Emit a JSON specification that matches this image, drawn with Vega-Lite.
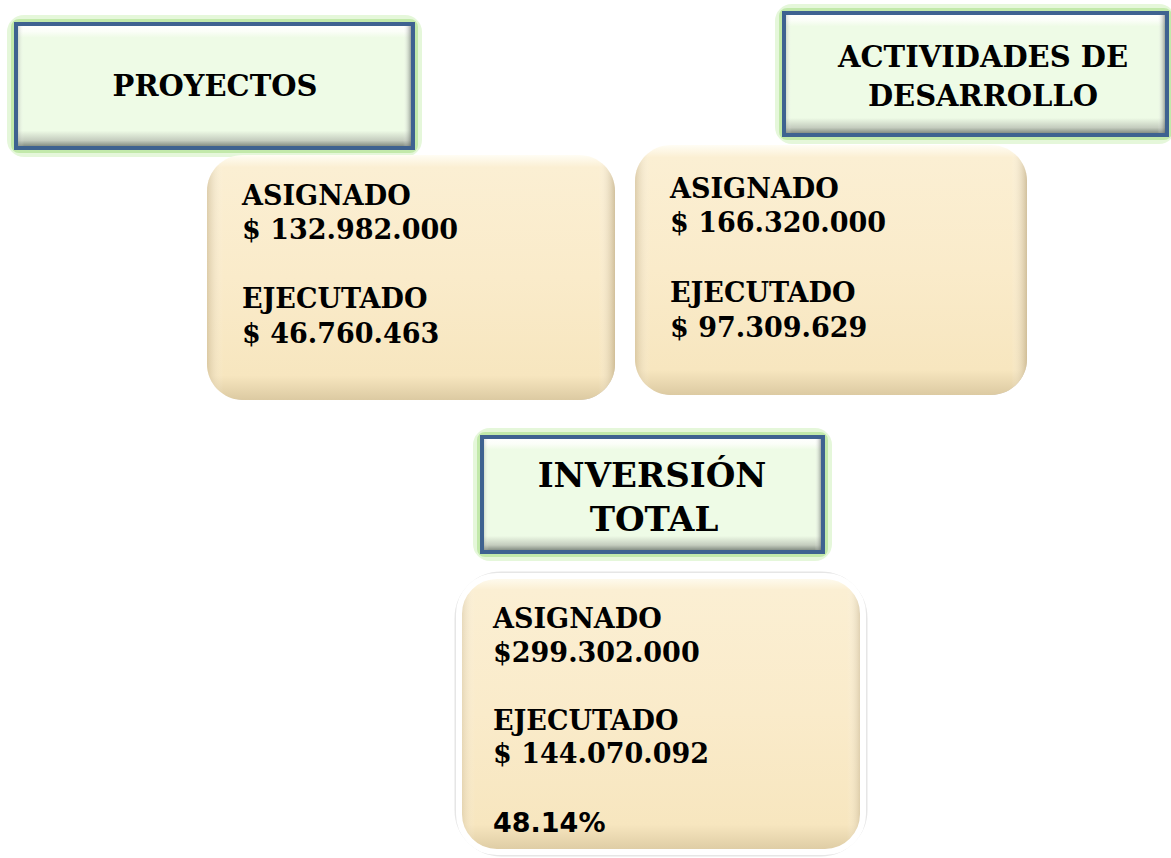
{
  "$schema": "https://vega.github.io/schema/vega-lite/v6.json",
  "width": 1171,
  "height": 858,
  "padding": 0,
  "autosize": "none",
  "background": "#ffffff",
  "config": {"view": {"stroke": null}},
  "datasets": {
    "titles": [
      {"box": "PROYECTOS", "x1": 16, "x2": 413, "y1": 24, "y2": 148},
      {"box": "ACTIVIDADES DE DESARROLLO", "x1": 784, "x2": 1167, "y1": 13, "y2": 135},
      {"box": "INVERSIÓN TOTAL", "x1": 482, "x2": 823, "y1": 437, "y2": 552}
    ],
    "cards": [
      {"card": "Proyectos", "x1": 207, "x2": 615, "y1": 155, "y2": 400, "total": false},
      {"card": "Actividades", "x1": 635, "x2": 1027, "y1": 145, "y2": 395, "total": false},
      {"card": "Total", "x1": 459, "x2": 863, "y1": 576, "y2": 852, "total": true}
    ],
    "titletext": [
      {"text": "PROYECTOS", "x": 215, "y": 96, "big": false},
      {"text": "ACTIVIDADES DE", "x": 983, "y": 67, "big": false},
      {"text": "DESARROLLO", "x": 983, "y": 106, "big": false},
      {"text": "INVERSIÓN", "x": 652, "y": 487, "big": true},
      {"text": "TOTAL", "x": 654, "y": 531, "big": true}
    ],
    "lines": [
      {"card": "Proyectos", "text": "ASIGNADO", "x": 242, "y": 205, "serif": true},
      {"card": "Proyectos", "text": "$ 132.982.000", "x": 242, "y": 239, "serif": true},
      {"card": "Proyectos", "text": "EJECUTADO", "x": 242, "y": 308, "serif": true},
      {"card": "Proyectos", "text": "$ 46.760.463", "x": 242, "y": 343, "serif": true},
      {"card": "Actividades", "text": "ASIGNADO", "x": 670, "y": 198, "serif": true},
      {"card": "Actividades", "text": "$ 166.320.000", "x": 670, "y": 232, "serif": true},
      {"card": "Actividades", "text": "EJECUTADO", "x": 670, "y": 302, "serif": true},
      {"card": "Actividades", "text": "$ 97.309.629", "x": 670, "y": 337, "serif": true},
      {"card": "Total", "text": "ASIGNADO", "x": 493, "y": 628, "serif": true},
      {"card": "Total", "text": "$299.302.000", "x": 493, "y": 662, "serif": true},
      {"card": "Total", "text": "EJECUTADO", "x": 493, "y": 730, "serif": true},
      {"card": "Total", "text": "$ 144.070.092", "x": 493, "y": 763, "serif": true},
      {"card": "Total", "text": "48.14%", "x": 493, "y": 832, "serif": false}
    ]
  },
  "layer": [
    {
      "data": {"name": "titles"},
      "mark": {"type": "rect", "fill": null, "stroke": "#D3F1C2", "strokeWidth": 18, "strokeOpacity": 0.6, "cornerRadius": 8},
      "encoding": {
        "x": {"field": "x1", "type": "quantitative", "scale": {"domain": [0, 1171], "nice": false, "zero": false}, "axis": null},
        "x2": {"field": "x2"},
        "y": {"field": "y1", "type": "quantitative", "scale": {"domain": [0, 858], "nice": false, "zero": false, "reverse": true}, "axis": null},
        "y2": {"field": "y2"}
      }
    },
    {
      "data": {"name": "titles"},
      "mark": {"type": "rect", "fill": null, "stroke": "#B6E49A", "strokeWidth": 10, "strokeOpacity": 0.75, "cornerRadius": 3},
      "encoding": {
        "x": {"field": "x1", "type": "quantitative"},
        "x2": {"field": "x2"},
        "y": {"field": "y1", "type": "quantitative"},
        "y2": {"field": "y2"}
      }
    },
    {
      "data": {"name": "titles"},
      "mark": {
        "type": "rect",
        "fill": {"gradient": "linear", "x1": 0, "y1": 0, "x2": 0, "y2": 1, "stops": [
          {"offset": 0, "color": "#FFFFFF"},
          {"offset": 0.06, "color": "#FBFEF8"},
          {"offset": 0.11, "color": "#EEFBE6"},
          {"offset": 0.86, "color": "#EEFBE6"},
          {"offset": 0.94, "color": "#C4CCBE"},
          {"offset": 1, "color": "#6E786F"}
        ]}
      },
      "encoding": {
        "x": {"field": "x1", "type": "quantitative"},
        "x2": {"field": "x2"},
        "y": {"field": "y1", "type": "quantitative"},
        "y2": {"field": "y2"}
      }
    },
    {
      "data": {"name": "titles"},
      "mark": {
        "type": "rect",
        "fill": {"gradient": "linear", "x1": 0, "y1": 0, "x2": 1, "y2": 0, "stops": [
          {"offset": 0, "color": "rgba(110,120,110,0.45)"},
          {"offset": 0.02, "color": "rgba(255,255,255,0)"},
          {"offset": 0.975, "color": "rgba(255,255,255,0)"},
          {"offset": 1, "color": "rgba(50,60,55,0.7)"}
        ]}
      },
      "encoding": {
        "x": {"field": "x1", "type": "quantitative"},
        "x2": {"field": "x2"},
        "y": {"field": "y1", "type": "quantitative"},
        "y2": {"field": "y2"}
      }
    },
    {
      "data": {"name": "titles"},
      "mark": {"type": "rect", "fill": null, "stroke": "#3E6290", "strokeWidth": 4},
      "encoding": {
        "x": {"field": "x1", "type": "quantitative"},
        "x2": {"field": "x2"},
        "y": {"field": "y1", "type": "quantitative"},
        "y2": {"field": "y2"}
      }
    },
    {
      "data": {"name": "cards"},
      "mark": {"type": "rect", "fill": "#8E887C", "opacity": 0.45, "cornerRadius": 36, "xOffset": 2, "yOffset": 5},
      "encoding": {
        "x": {"field": "x1", "type": "quantitative"},
        "x2": {"field": "x2"},
        "y": {"field": "y1", "type": "quantitative"},
        "y2": {"field": "y2"}
      }
    },
    {
      "data": {"name": "cards"},
      "transform": [{"filter": "datum.total"}],
      "mark": {"type": "rect", "fill": "#ffffff", "stroke": "#D5D5D5", "strokeWidth": 9, "strokeOpacity": 0.6, "cornerRadius": 42},
      "encoding": {
        "x": {"field": "x1", "type": "quantitative"},
        "x2": {"field": "x2"},
        "y": {"field": "y1", "type": "quantitative"},
        "y2": {"field": "y2"}
      }
    },
    {
      "data": {"name": "cards"},
      "mark": {
        "type": "rect",
        "cornerRadius": 36,
        "fill": {"gradient": "linear", "x1": 0, "y1": 0, "x2": 0, "y2": 1, "stops": [
          {"offset": 0, "color": "#FFFDF4"},
          {"offset": 0.05, "color": "#FBEFD3"},
          {"offset": 0.5, "color": "#FAEBCA"},
          {"offset": 0.9, "color": "#F7E6BF"},
          {"offset": 1, "color": "#DCCAA2"}
        ]}
      },
      "encoding": {
        "x": {"field": "x1", "type": "quantitative"},
        "x2": {"field": "x2"},
        "y": {"field": "y1", "type": "quantitative"},
        "y2": {"field": "y2"}
      }
    },
    {
      "data": {"name": "cards"},
      "mark": {
        "type": "rect",
        "cornerRadius": 36,
        "fill": {"gradient": "linear", "x1": 0, "y1": 0, "x2": 1, "y2": 0, "stops": [
          {"offset": 0, "color": "rgba(185,165,125,0.45)"},
          {"offset": 0.04, "color": "rgba(255,255,255,0)"},
          {"offset": 0.96, "color": "rgba(255,255,255,0)"},
          {"offset": 1, "color": "rgba(175,155,115,0.55)"}
        ]}
      },
      "encoding": {
        "x": {"field": "x1", "type": "quantitative"},
        "x2": {"field": "x2"},
        "y": {"field": "y1", "type": "quantitative"},
        "y2": {"field": "y2"}
      }
    },
    {
      "data": {"name": "cards"},
      "transform": [{"filter": "datum.total"}],
      "mark": {"type": "rect", "fill": null, "stroke": "#FFFFFF", "strokeWidth": 6, "cornerRadius": 38},
      "encoding": {
        "x": {"field": "x1", "type": "quantitative"},
        "x2": {"field": "x2"},
        "y": {"field": "y1", "type": "quantitative"},
        "y2": {"field": "y2"}
      }
    },
    {
      "data": {"name": "titletext"},
      "transform": [{"filter": "!datum.big"}],
      "mark": {"type": "text", "font": "DejaVu Serif", "fontWeight": "bold", "fontSize": 29, "align": "center", "baseline": "alphabetic", "fill": "#000000"},
      "encoding": {
        "x": {"field": "x", "type": "quantitative"},
        "y": {"field": "y", "type": "quantitative"},
        "text": {"field": "text"}
      }
    },
    {
      "data": {"name": "titletext"},
      "transform": [{"filter": "datum.big"}],
      "mark": {"type": "text", "font": "DejaVu Serif", "fontWeight": "bold", "fontSize": 34, "align": "center", "baseline": "alphabetic", "fill": "#000000"},
      "encoding": {
        "x": {"field": "x", "type": "quantitative"},
        "y": {"field": "y", "type": "quantitative"},
        "text": {"field": "text"}
      }
    },
    {
      "data": {"name": "lines"},
      "transform": [{"filter": "datum.serif"}],
      "mark": {"type": "text", "font": "DejaVu Serif", "fontWeight": "bold", "fontSize": 27, "align": "left", "baseline": "alphabetic", "fill": "#000000"},
      "encoding": {
        "x": {"field": "x", "type": "quantitative"},
        "y": {"field": "y", "type": "quantitative"},
        "text": {"field": "text"}
      }
    },
    {
      "data": {"name": "lines"},
      "transform": [{"filter": "!datum.serif"}],
      "mark": {"type": "text", "font": "DejaVu Sans", "fontWeight": "bold", "fontSize": 27, "align": "left", "baseline": "alphabetic", "fill": "#000000"},
      "encoding": {
        "x": {"field": "x", "type": "quantitative"},
        "y": {"field": "y", "type": "quantitative"},
        "text": {"field": "text"}
      }
    }
  ]
}
